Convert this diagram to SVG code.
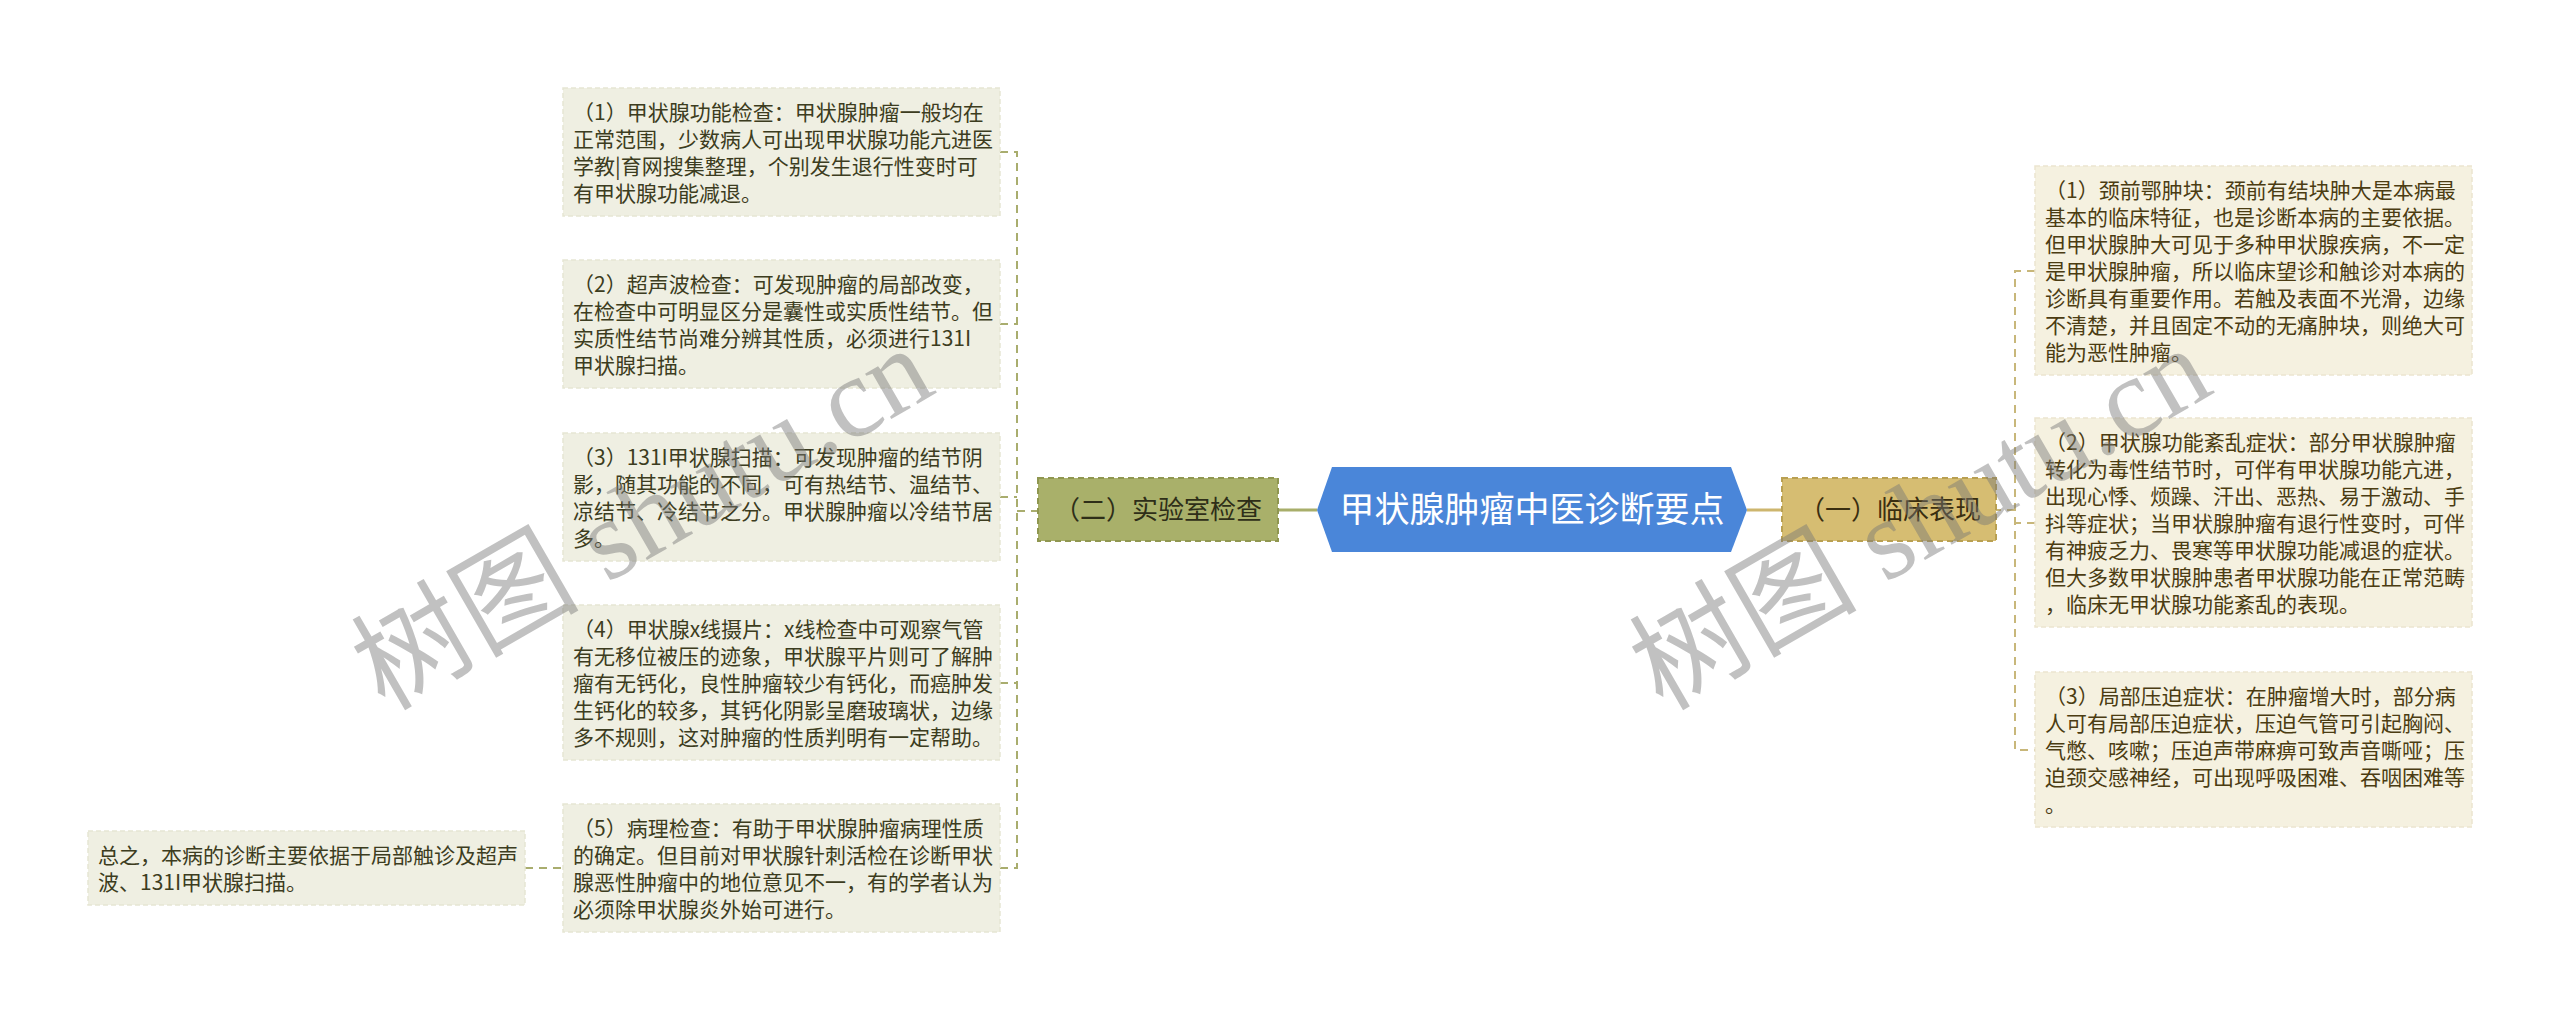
<svg xmlns="http://www.w3.org/2000/svg" width="2560" height="1021" viewBox="0 0 2560 1021">
<style>
.lbox{fill:#efefe2;stroke:#e6e6d3;stroke-width:1.5;stroke-dasharray:5 3}
.rbox{fill:#f5f1e0;stroke:#ebe5cf;stroke-width:1.5;stroke-dasharray:5 3}
.lt{font-family:"Noto Sans CJK SC","Noto Sans",sans-serif;font-size:21px;fill:#3c3c20}
.rt{font-family:"Noto Sans CJK SC","Noto Sans",sans-serif;font-size:21px;fill:#4b3c12}
.ldash{fill:none;stroke:#a9ad6e;stroke-width:2;stroke-dasharray:8 6}
.rdash{fill:none;stroke:#c8b77a;stroke-width:2;stroke-dasharray:8 6}
.wm{font-family:"Liberation Serif","Noto Sans CJK SC",serif;font-size:114px;fill:#777777;opacity:0.45}
</style>
<rect width="2560" height="1021" fill="#ffffff"/>
<g id="connectors">
<path class="ldash" d="M1000 152 H1017 V868 H1000 M1000 324 H1017 M1000 497 H1017 M1000 683 H1017 M1017 511 H1038 M525 868 H563"/>
<path class="rdash" d="M2035 271 H2015 V750 H2035 M2035 523 H2015 M2015 510 H1996"/>
<line x1="1278" y1="510" x2="1317" y2="510" stroke="#a8ae6a" stroke-width="3"/>
<line x1="1747" y1="510" x2="1782" y2="510" stroke="#cdb66e" stroke-width="3"/>
</g>
<g id="center">
<path d="M1332 467 H1731 L1747 510 L1731 552 H1332 L1317 510 Z" fill="#4a86d9"/>
<text x="1532" y="522" text-anchor="middle" font-family="Noto Sans CJK SC,Noto Sans,sans-serif" font-size="35" fill="#ffffff">甲状腺肿瘤中医诊断要点</text>
</g>
<g id="node-lab">
<rect x="1038" y="478" width="240" height="63" fill="#a9b06a" stroke="#8f9650" stroke-width="2" stroke-dasharray="6 4"/>
<text x="1158" y="519" text-anchor="middle" font-family="Noto Sans CJK SC,Noto Sans,sans-serif" font-size="26" fill="#2e2e18">（二）实验室检查</text>
</g>
<g id="node-clinic">
<rect x="1782" y="478" width="214" height="63" fill="#d6bd72" stroke="#b9a052" stroke-width="2" stroke-dasharray="6 4"/>
<text x="1890" y="519" text-anchor="middle" font-family="Noto Sans CJK SC,Noto Sans,sans-serif" font-size="26" fill="#3a2e10">（一）临床表现</text>
</g>
<g id="l1">
<rect class="lbox" x="563" y="88" width="437" height="128"/>
<text class="lt" y="119.5"><tspan x="573">（1）甲状腺功能检查：甲状腺肿瘤一般均在</tspan><tspan x="573" dy="27">正常范围，少数病人可出现甲状腺功能亢进医</tspan><tspan x="573" dy="27">学教|育网搜集整理，个别发生退行性变时可</tspan><tspan x="573" dy="27">有甲状腺功能减退。</tspan></text>
</g>
<g id="l2">
<rect class="lbox" x="563" y="260" width="437" height="128"/>
<text class="lt" y="291.5"><tspan x="573">（2）超声波检查：可发现肿瘤的局部改变，</tspan><tspan x="573" dy="27">在检查中可明显区分是囊性或实质性结节。但</tspan><tspan x="573" dy="27">实质性结节尚难分辨其性质，必须进行131I</tspan><tspan x="573" dy="27">甲状腺扫描。</tspan></text>
</g>
<g id="l3">
<rect class="lbox" x="563" y="433" width="437" height="128"/>
<text class="lt" y="464.5"><tspan x="573">（3）131I甲状腺扫描：可发现肿瘤的结节阴</tspan><tspan x="573" dy="27">影，随其功能的不同，可有热结节、温结节、</tspan><tspan x="573" dy="27">凉结节、冷结节之分。甲状腺肿瘤以冷结节居</tspan><tspan x="573" dy="27">多。</tspan></text>
</g>
<g id="l4">
<rect class="lbox" x="563" y="605" width="437" height="155"/>
<text class="lt" y="636.5"><tspan x="573">（4）甲状腺x线摄片：x线检查中可观察气管</tspan><tspan x="573" dy="27">有无移位被压的迹象，甲状腺平片则可了解肿</tspan><tspan x="573" dy="27">瘤有无钙化，良性肿瘤较少有钙化，而癌肿发</tspan><tspan x="573" dy="27">生钙化的较多，其钙化阴影呈磨玻璃状，边缘</tspan><tspan x="573" dy="27">多不规则，这对肿瘤的性质判明有一定帮助。</tspan></text>
</g>
<g id="l5">
<rect class="lbox" x="563" y="804" width="437" height="128"/>
<text class="lt" y="835.5"><tspan x="573">（5）病理检查：有助于甲状腺肿瘤病理性质</tspan><tspan x="573" dy="27">的确定。但目前对甲状腺针刺活检在诊断甲状</tspan><tspan x="573" dy="27">腺恶性肿瘤中的地位意见不一，有的学者认为</tspan><tspan x="573" dy="27">必须除甲状腺炎外始可进行。</tspan></text>
</g>
<g id="summary">
<rect class="lbox" x="88" y="831" width="437" height="74"/>
<text class="lt" y="862.5"><tspan x="98">总之，本病的诊断主要依据于局部触诊及超声</tspan><tspan x="98" dy="27">波、131I甲状腺扫描。</tspan></text>
</g>
<g id="r1">
<rect class="rbox" x="2035" y="166" width="437" height="209"/>
<text class="rt" y="197.5"><tspan x="2045">（1）颈前鄂肿块：颈前有结块肿大是本病最</tspan><tspan x="2045" dy="27">基本的临床特征，也是诊断本病的主要依据。</tspan><tspan x="2045" dy="27">但甲状腺肿大可见于多种甲状腺疾病，不一定</tspan><tspan x="2045" dy="27">是甲状腺肿瘤，所以临床望诊和触诊对本病的</tspan><tspan x="2045" dy="27">诊断具有重要作用。若触及表面不光滑，边缘</tspan><tspan x="2045" dy="27">不清楚，并且固定不动的无痛肿块，则绝大可</tspan><tspan x="2045" dy="27">能为恶性肿瘤。</tspan></text>
</g>
<g id="r2">
<rect class="rbox" x="2035" y="418" width="437" height="209"/>
<text class="rt" y="449.5"><tspan x="2045">（2）甲状腺功能紊乱症状：部分甲状腺肿瘤</tspan><tspan x="2045" dy="27">转化为毒性结节时，可伴有甲状腺功能亢进，</tspan><tspan x="2045" dy="27">出现心悸、烦躁、汗出、恶热、易于激动、手</tspan><tspan x="2045" dy="27">抖等症状；当甲状腺肿瘤有退行性变时，可伴</tspan><tspan x="2045" dy="27">有神疲乏力、畏寒等甲状腺功能减退的症状。</tspan><tspan x="2045" dy="27">但大多数甲状腺肿患者甲状腺功能在正常范畴</tspan><tspan x="2045" dy="27">，临床无甲状腺功能紊乱的表现。</tspan></text>
</g>
<g id="r3">
<rect class="rbox" x="2035" y="672" width="437" height="155"/>
<text class="rt" y="703.5"><tspan x="2045">（3）局部压迫症状：在肿瘤增大时，部分病</tspan><tspan x="2045" dy="27">人可有局部压迫症状，压迫气管可引起胸闷、</tspan><tspan x="2045" dy="27">气憋、咳嗽；压迫声带麻痹可致声音嘶哑；压</tspan><tspan x="2045" dy="27">迫颈交感神经，可出现呼吸困难、吞咽困难等</tspan><tspan x="2045" dy="27">。</tspan></text>
</g>
<g id="watermarks">
<text class="wm" x="642" y="557" text-anchor="middle" transform="rotate(-30 642 518)">树图 shutu.cn</text>
<text class="wm" x="1920" y="557" text-anchor="middle" transform="rotate(-30 1920 518)">树图 shutu.cn</text>
</g>
</svg>
